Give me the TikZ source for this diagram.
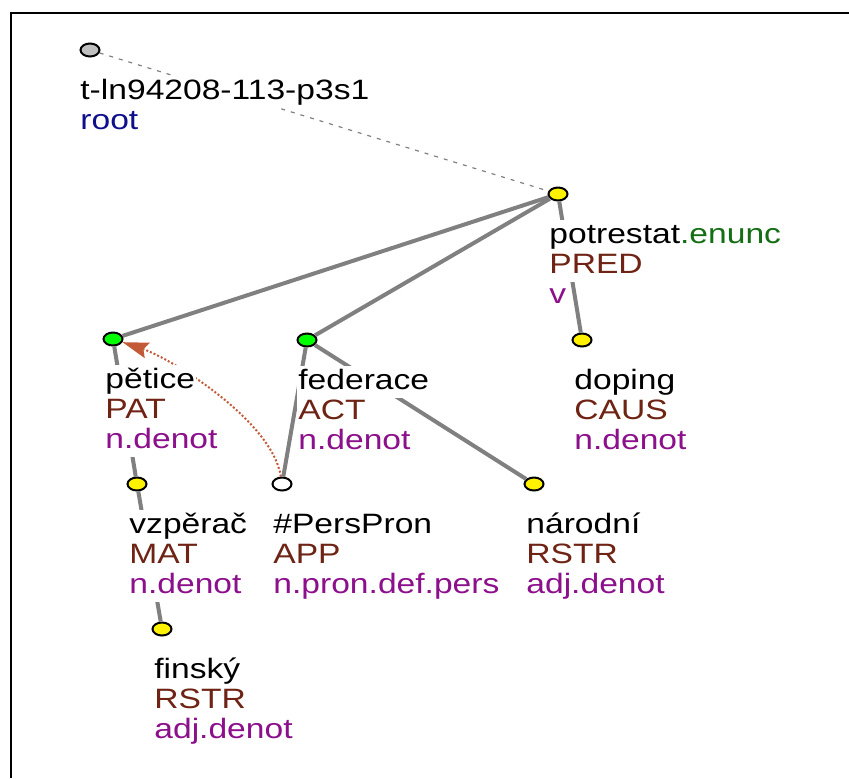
\documentclass[tikz,border=0pt]{standalone}
\usepackage{fontspec}
\setmainfont[FakeStretch=1.2]{Liberation Sans}
\usepackage{xcolor}
\usetikzlibrary{shapes.geometric, arrows.meta}
\definecolor{functor}{RGB}{110,35,20}
\definecolor{ntype}{RGB}{140,15,140}
\definecolor{rootblue}{RGB}{15,15,140}
\definecolor{enunc}{RGB}{20,110,20}
\definecolor{corefred}{RGB}{195,90,55}

\begin{document}
\begin{tikzpicture}[x=0.5pt, y=-0.5pt,
    tnode/.style={ellipse, draw, line width=1pt, inner sep=0pt, minimum width=9.5pt, minimum height=6.5pt},
    lbl/.style={anchor=base west, fill=white, inner xsep=0.5pt, inner ysep=0.3pt, text height=11pt, text depth=4pt, font=\fontsize{14pt}{15pt}\selectfont},
    treeedge/.style={draw=gray, line width=2pt},
    coref/.style={draw=corefred, line width=1pt, dash pattern=on 1pt off 1pt, -{Stealth[length=13pt, width=8pt, inset=2pt]}}]
    \useasboundingbox (0,0) rectangle (849,778);
    \draw[line width=0.6pt] (11,778) -- (11,13) -- (849,13);

    \node[tnode, fill=lightgray] (root) at (90,50) {};
    \node[tnode, fill=yellow] (potrestat) at (558,194) {};
    \node[tnode, fill=green] (petice) at (113,339) {};
    \node[tnode, fill=green] (federace) at (307,340) {};
    \node[tnode, fill=yellow] (doping) at (582,340) {};
    \node[tnode, fill=yellow] (vzperac) at (137,484) {};
    \node[tnode, fill=white] (perspron) at (282,484) {};
    \node[tnode, fill=yellow] (narodni) at (534,484) {};
    \node[tnode, fill=yellow] (finsky) at (162,629) {};

    \draw[gray, line width=0.6pt, dash pattern=on 2pt off 3pt] (root) -- (potrestat);
    \draw[treeedge] (potrestat) -- (petice);
    \draw[treeedge] (potrestat) -- (federace);
    \draw[treeedge] (potrestat) -- (doping);
    \draw[treeedge] (petice) -- (vzperac);
    \draw[treeedge] (vzperac) -- (finsky);
    \draw[treeedge] (federace) -- (perspron);
    \draw[treeedge] (federace) -- (narodni);
    \draw[coref] (perspron) .. controls (272,420) and (170,358) .. (petice);

    \node[lbl] (root-w) at (79,99) {t-ln94208-113-p3s1};
    \node[lbl, text=rootblue] (root-t) at (79,129) {root};

    \node[lbl] (potrestat-w) at (548,243) {potrestat\textcolor{enunc}{.enunc}};
    \node[lbl, text=functor] (potrestat-f) at (548,273) {PRED};
    \node[lbl, text=ntype] (potrestat-t) at (548,303) {v};

    \node[lbl] (petice-w) at (104,388) {pětice};
    \node[lbl, text=functor] (petice-f) at (104,418) {PAT};
    \node[lbl, text=ntype] (petice-t) at (104,448) {n.denot};

    \node[lbl] (federace-w) at (297,389) {federace};
    \node[lbl, text=functor] (federace-f) at (297,419) {ACT};
    \node[lbl, text=ntype] (federace-t) at (297,449) {n.denot};

    \node[lbl] (doping-w) at (573,389) {doping};
    \node[lbl, text=functor] (doping-f) at (573,419) {CAUS};
    \node[lbl, text=ntype] (doping-t) at (573,449) {n.denot};

    \node[lbl] (vzperac-w) at (128,533) {vzpěrač};
    \node[lbl, text=functor] (vzperac-f) at (128,563) {MAT};
    \node[lbl, text=ntype] (vzperac-t) at (128,593) {n.denot};

    \node[lbl] (perspron-w) at (272,533) {\#PersPron};
    \node[lbl, text=functor] (perspron-f) at (272,563) {APP};
    \node[lbl, text=ntype] (perspron-t) at (272,593) {n.pron.def.pers};

    \node[lbl] (narodni-w) at (525,533) {národní};
    \node[lbl, text=functor] (narodni-f) at (525,563) {RSTR};
    \node[lbl, text=ntype] (narodni-t) at (525,593) {adj.denot};

    \node[lbl] (finsky-w) at (153,678) {finský};
    \node[lbl, text=functor] (finsky-f) at (153,708) {RSTR};
    \node[lbl, text=ntype] (finsky-t) at (153,738) {adj.denot};
\end{tikzpicture}
\end{document}
